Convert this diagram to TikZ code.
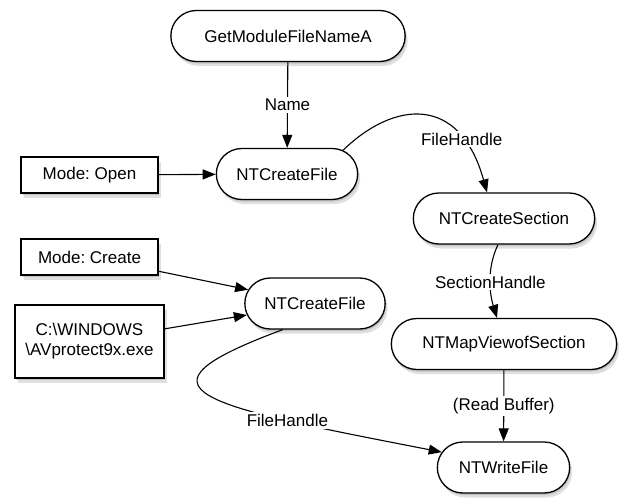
\documentclass[tikz,border=0pt]{standalone}
\usepackage{fontspec}
\setmainfont{Liberation Sans}
\frenchspacing
\usetikzlibrary{shapes.misc,shadows,arrows.meta}

\tikzset{
  soft/.style={drop shadow={shadow xshift=1pt,shadow yshift=-2pt,opacity=0.3},
    drop shadow={shadow xshift=2.5pt,shadow yshift=-4.5pt,opacity=0.25}},
  call/.style={rounded rectangle,draw,fill=white,line width=1.3pt,minimum height=51pt,soft},
  arg/.style={rectangle,draw,fill=white,line width=1.3pt,align=center,soft},
  flow/.style={-{Triangle[length=13pt,width=10pt]},line width=1.1pt},
  lbl/.style={fill=white,inner sep=2pt}
}

\begin{document}
\begin{tikzpicture}[x=1pt,y=-1pt,font=\fontsize{17}{20}\selectfont]
      \useasboundingbox (0,0) rectangle (621,498);
      \node[call,minimum width=241pt] (getname) at (288,36) {GetModuleFileNameA};
      \node[call,minimum width=148pt] (open) at (287,174) {NTCreateFile};
      \node[arg,minimum width=137pt,minimum height=36pt] (modeopen) at (89.5,175) {Mode: Open};
      \node[call,minimum width=188pt] (section) at (504,218.5) {NTCreateSection};
      \node[arg,minimum width=137pt,minimum height=36pt] (modecreate) at (89.5,257) {Mode: Create};
      \node[arg,minimum width=149pt,minimum height=73pt] (exepath) at (89.5,341.5) {C:\textbackslash WINDOWS\\\textbackslash AVprotect9x.exe};
      \node[call,minimum width=147pt] (create) at (315,303.5) {NTCreateFile};
      \node[call,minimum width=232pt] (mapview) at (504,344) {NTMapViewofSection};
      \node[call,minimum width=139pt] (write) at (503.5,467.5) {NTWriteFile};

      \draw[flow] (getname) -- node[lbl] {Name} (open);
      \draw[flow] (modeopen) -- (open);
      \draw[flow] (open.23) .. controls (395,100) and (460,95) .. node[lbl,pos=0.76] {FileHandle} (section.123);
      \draw[flow] (section.257) .. controls (486,270) and (490,295) .. node[lbl] {SectionHandle} (mapview.105);
      \draw[flow] (modecreate) -- (create);
      \draw[flow] (exepath) -- (create);
      \draw[flow] (mapview) -- node[lbl] {(Read Buffer)} (write);
      \draw[flow] (create.219) .. controls (120,390) and (200,405) .. node[lbl,pos=0.74] {FileHandle} (write.166);

      \end{tikzpicture}
\end{document}
